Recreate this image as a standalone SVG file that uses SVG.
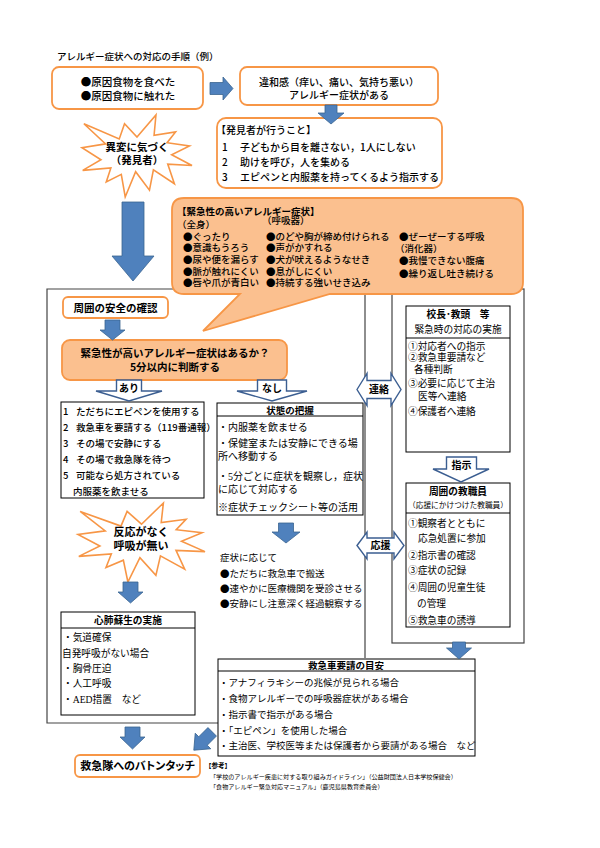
<svg xmlns="http://www.w3.org/2000/svg" width="600" height="848" viewBox="0 0 600 848">
<style>
.g{font-family:"Noto Sans CJK JP","Noto Sans CJK SC",sans-serif;fill:#000;font-weight:500}
.m{font-family:"Liberation Serif","Noto Sans CJK JP",serif;fill:#000}
.j{font-family:"Noto Sans CJK JP",sans-serif}
.b{font-weight:700}
.c{text-anchor:middle}
.ob{fill:#fff;stroke:#F79646;stroke-width:1.8}
.of{fill:#FBC08F;stroke:#F79646;stroke-width:1.8}
.bx{fill:#fff;stroke:#000;stroke-width:1}
.ln{stroke:#000;stroke-width:1}
.fr{fill:none;stroke:#444;stroke-width:1.2}
.ba{fill:#4F81BD;stroke:#3A6591;stroke-width:0.8}
.oa{fill:#fff;stroke:#3B5E91;stroke-width:1.4}
.st{fill:#fff;stroke:#F79646;stroke-width:1.6;stroke-linejoin:miter}
</style>
<rect width="600" height="848" fill="#fff"/>
<text class="g" x="57" y="60.3" font-size="9.5">アレルギー症状への対応の手順（例）</text>

<g id="frames">
<path class="fr" d="M365 658 V289 H47 V723 H218"/>
<rect class="fr" x="392" y="289" width="132" height="354"/>
</g>

<g id="cause">
<rect class="ob" x="52" y="67" width="151" height="42" rx="7"/>
<text class="g c" x="128" y="85.7" font-size="10.5">●原因食物を食べた</text>
<text class="g c" x="128" y="99.5" font-size="10.5">●原因食物に触れた</text>
</g>

<g id="symptom">
<rect class="ob" x="240" y="67" width="198" height="38" rx="7"/>
<text class="g c" x="339" y="85.5" font-size="10">違和感（痒い、痛い、気持ち悪い）</text>
<text class="g c" x="339" y="99" font-size="10">アレルギー症状がある</text>
</g>

<g id="notice">
<polygon class="st" points="137,137 155.95,115 154.08,135.21 175.6,131.92 167.05,142.77 189.44,145.89 171.66,154.77 192,165.46 167.75,164.13 174.4,183.69 153.4,169.88 149.46,190.15 135.64,171.69 125.21,197 121.29,174.33 106.26,181.88 110.86,167.91 82.69,170.37 100.95,159.7 82,147.7 105.56,143.91 83.88,123.72 119.24,138.99 124.54,123.72"/>
<text class="g b c" x="137" y="151" font-size="10.5">異変に気づく</text>
<text class="g b c" x="137" y="163.5" font-size="10.5">（発見者）</text>
</g>

<g id="discoverer">
<rect class="ob" x="217" y="118" width="225" height="70" rx="9"/>
<text class="g" x="216" y="133.8" font-size="10">【発見者が行うこと】</text>
<text class="g" font-size="10" y="150.8"><tspan x="222">1</tspan><tspan x="240">子どもから目を離さない，1人にしない</tspan></text>
<text class="g" font-size="10" y="165.8"><tspan x="222">2</tspan><tspan x="240">助けを呼び，人を集める</tspan></text>
<text class="g" font-size="10" y="180.8"><tspan x="222">3</tspan><tspan x="240">エピペンと内服薬を持ってくるよう指示する</tspan></text>
</g>

<g id="urgent-symptoms">
<path class="of" d="M184 198 H511 Q523 198 523 210 V282 Q523 294 511 294 H330 L203 331 L240 294 H184 Q172 294 172 282 V210 Q172 198 184 198 Z"/>
<text class="g b" x="177" y="215" font-size="9.5">【緊急性の高いアレルギー症状】</text>
<text class="g" x="262" y="223.5" font-size="9.5">（呼吸器）</text>
<text class="g" x="177" y="227.8" font-size="9.5">（全身）</text>
<text class="g" x="183" y="239.8" font-size="9.5">●ぐったり</text>
<text class="g" x="183" y="251.4" font-size="9.5">●意識もうろう</text>
<text class="g" x="183" y="263" font-size="9.5">●尿や便を漏らす</text>
<text class="g" x="183" y="274.7" font-size="9.5">●脈が触れにくい</text>
<text class="g" x="183" y="286.4" font-size="9.5">●唇や爪が青白い</text>
<text class="g" x="266" y="239.8" font-size="9.5">●のどや胸が締め付けられる</text>
<text class="g" x="266" y="251.4" font-size="9.5">●声がかすれる</text>
<text class="g" x="266" y="263" font-size="9.5">●犬が吠えるようなせき</text>
<text class="g" x="266" y="274.7" font-size="9.5">●息がしにくい</text>
<text class="g" x="266" y="286.4" font-size="9.5">●持続する強いせき込み</text>
<text class="g" x="399" y="239.8" font-size="9.5">●ぜーぜーする呼吸</text>
<text class="g" x="395" y="251.8" font-size="9.5">（消化器）</text>
<text class="g" x="399" y="264" font-size="9.5">●我慢できない腹痛</text>
<text class="g" x="399" y="276.5" font-size="9.5">●繰り返し吐き続ける</text>
</g>

<g id="safety">
<rect class="ob" x="63" y="297" width="105" height="21" rx="5"/>
<text class="g b c" x="115.5" y="311.5" font-size="10.5">周囲の安全の確認</text>
</g>

<g id="judge">
<rect class="of" x="62" y="340" width="225" height="40" rx="8"/>
<text class="g b c" x="175" y="356.7" font-size="10.5">緊急性が高いアレルギー症状はあるか？</text>
<text class="g b c" x="175" y="371.3" font-size="10.5">5分以内に判断する</text>
</g>

<g id="actions">
<rect class="bx" x="61" y="402" width="143" height="96" stroke-width="2"/>
<text class="g" font-size="9.5" y="414.6"><tspan x="63">1</tspan><tspan x="76">ただちにエピペンを使用する</tspan></text>
<text class="g" font-size="9.5" y="430.6"><tspan x="63">2</tspan><tspan x="76">救急車を要請する（119番通報）</tspan></text>
<text class="g" font-size="9.5" y="446.6"><tspan x="63">3</tspan><tspan x="76">その場で安静にする</tspan></text>
<text class="g" font-size="9.5" y="462.6"><tspan x="63">4</tspan><tspan x="76">その場で救急隊を待つ</tspan></text>
<text class="g" font-size="9.5" y="478.6"><tspan x="63">5</tspan><tspan x="76">可能なら処方されている</tspan></text>
<text class="g" x="73" y="494.6" font-size="9.5">内服薬を飲ませる</text>
</g>

<g id="status">
<rect class="bx" x="217" y="403" width="146" height="112"/>
<line class="ln" x1="217" y1="416" x2="363" y2="416"/>
<text class="m b c" x="290" y="413.5" font-size="9.5">状態の把握</text>
<text class="m" x="218" y="430.8" font-size="10">・内服薬を飲ませる</text>
<text class="m" x="218" y="446.8" font-size="10">・保健室または安静にできる場</text>
<text class="m" x="218" y="459.8" font-size="10">所へ移動する</text>
<text class="m" x="218" y="479.8" font-size="10">・5分ごとに症状を観察し，症状</text>
<text class="m" x="218" y="492.8" font-size="10">に応じて対応する</text>
<text class="m" x="218" y="510.8" font-size="10">※症状チェックシート等の活用</text>
</g>

<g id="according">
<text class="m" x="220" y="560.6" font-size="9.5">症状に応じて</text>
<text class="m" x="220" y="576.6" font-size="9.5"><tspan class="j">●</tspan>ただちに救急車で搬送</text>
<text class="m" x="220" y="591.6" font-size="9.5"><tspan class="j">●</tspan>速やかに医療機関を受診させる</text>
<text class="m" x="220" y="606.6" font-size="9.5"><tspan class="j">●</tspan>安静にし注意深く経過観察する</text>
</g>

<g id="no-response">
<polygon class="st" points="141.5,524.21 163.38,503 161.22,522.47 186.06,519.3 176.2,529.76 202.04,532.76 181.52,541.32 205,551.62 176,550.34 184.68,569.18 160.44,555.87 155.89,575.4 139.93,557.62 127.89,582 123.36,560.16 106,567.43 111.32,553.97 78.8,556.35 99.88,546.06 78,534.51 105.2,530.86 80.17,511.4 120.99,526.12 127.11,511.4"/>
<text class="g b c" x="141" y="536.2" font-size="11">反応がなく</text>
<text class="g b c" x="141" y="550.2" font-size="11">呼吸が無い</text>
</g>

<g id="cpr">
<rect class="bx" x="61" y="612" width="134" height="103"/>
<line class="ln" x1="61" y1="628" x2="195" y2="628"/>
<text class="m b c" x="128" y="623.7" font-size="9.7">心肺蘇生の実施</text>
<text class="m" x="63" y="640.7" font-size="9.7">・気道確保</text>
<text class="m" x="62" y="656.7" font-size="9.7">自発呼吸がない場合</text>
<text class="m" x="63" y="671.7" font-size="9.7">・胸骨圧迫</text>
<text class="m" x="63" y="686.7" font-size="9.7">・人工呼吸</text>
<text class="m" x="63" y="702.7" font-size="9.7">・AED措置　など</text>
</g>

<g id="principal">
<rect class="bx" x="406" y="306" width="104" height="146"/>
<line class="ln" x1="406" y1="338" x2="510" y2="338"/>
<text class="m b c" x="458" y="317.7" font-size="9.7">校長･教頭　等</text>
<text class="m c" x="458" y="332.7" font-size="9.7">緊急時の対応の実施</text>
<text class="m" x="408" y="349.7" font-size="9.7">①対応者への指示</text>
<text class="m" x="408" y="361.4" font-size="9.7">②救急車要請など</text>
<text class="m" x="414" y="373" font-size="9.7">各種判断</text>
<text class="m" x="408" y="387" font-size="9.7">③必要に応じて主治</text>
<text class="m" x="418" y="399.7" font-size="9.7">医等へ連絡</text>
<text class="m" x="408" y="415.4" font-size="9.7">④保護者へ連絡</text>
</g>

<g id="staff">
<rect class="bx" x="406" y="483" width="104" height="144"/>
<line class="ln" x1="406" y1="513" x2="510" y2="513"/>
<text class="m b c" x="458" y="494.7" font-size="9.7">周囲の教職員</text>
<text class="m c" x="458" y="508" font-size="7.7">（応援にかけつけた教職員）</text>
<text class="m" x="408" y="526.7" font-size="9.7">①観察者とともに</text>
<text class="m" x="418" y="541.7" font-size="9.7">応急処置に参加</text>
<text class="m" x="408" y="558.7" font-size="9.7">②指示書の確認</text>
<text class="m" x="408" y="573.7" font-size="9.7">③症状の記録</text>
<text class="m" x="408" y="590.7" font-size="9.7">④周囲の児童生徒</text>
<text class="m" x="417" y="606.7" font-size="9.7">の管理</text>
<text class="m" x="408" y="623.7" font-size="9.7">⑤救急車の誘導</text>
</g>

<g id="ambulance-criteria">
<rect class="bx" x="218" y="659" width="257" height="97"/>
<line class="ln" x1="218" y1="671" x2="475" y2="671"/>
<text class="m b c" x="346" y="668.6" font-size="9.5">救急車要請の目安</text>
<text class="m" x="219" y="685.6" font-size="9.5">・アナフィラキシーの兆候が見られる場合</text>
<text class="m" x="219" y="701.6" font-size="9.5">・食物アレルギーでの呼吸器症状がある場合</text>
<text class="m" x="219" y="717.6" font-size="9.5">・指示書で指示がある場合</text>
<text class="m" x="219" y="733.6" font-size="9.5">・「エピペン」を使用した場合</text>
<text class="m" x="219" y="748.6" font-size="9.5">・主治医、学校医等または保護者から要請がある場合　など</text>
</g>

<g id="baton">
<rect class="ob" x="75" y="755" width="125" height="22" rx="5"/>
<text class="g b c" x="137.5" y="770.3" font-size="11" style="font-feature-settings:'palt'">救急隊へのバトンタッチ</text>
</g>

<g id="reference">
<text class="m b" x="205" y="767.5" font-size="6.5">【参考】</text>
<text class="m" x="210" y="779" font-size="6.1">「学校のアレルギー疾患に対する取り組みガイドライン」（公益財団法人日本学校保健会）</text>
<text class="m" x="210" y="788.5" font-size="6.1">「食物アレルギー緊急対応マニュアル」（鹿児島県教育委員会）</text>
</g>

<g id="connectors">
<path class="ba" d="M210 82.5 H223 V77 L233 88.5 L223 100 V94.5 H210 Z"/>
<path class="ba" d="M325 105 H337 V113 H344 L331 124 L318 113 H325 Z"/>
<path class="ba" d="M122 202 H144 V256 H154 L133 281 L112 256 H122 Z"/>
<path class="ba" d="M105 320 H120 V330 H125 L112.5 340 L100 330 H105 Z"/>
<path class="ba" d="M278.5 523 H293.5 V532 H300 L286 543 L272 532 H278.5 Z"/>
<path class="ba" d="M123 582 H138 V592 H143 L130.5 603 L118 592 H123 Z"/>
<path class="ba" d="M452.5 642 H465.5 V648 H471.5 L459 659 L446.5 648 H452.5 Z"/>
<path class="ba" d="M125 727 H140 V737 H145 L132.5 749 L120 737 H125 Z"/>
<path class="ba" transform="translate(203 741) rotate(45)" d="M-6 -13 H6 V0 H11 L0 13 L-11 0 H-6 Z"/>
<g id="arrow-yes">
<path class="oa" d="M116.5 380 H141.5 V391 H162 L129 401 L96 391 H116.5 Z"/>
<text class="g b c" x="129" y="391.5" font-size="10">あり</text>
</g>
<g id="arrow-no">
<path class="oa" d="M257.5 380 H286.5 V391 H307 L272 401 L237 391 H257.5 Z"/>
<text class="g b c" x="272" y="391.5" font-size="10">なし</text>
</g>
<g id="arrow-contact">
<path class="oa" d="M357 389.5 L367 373.5 V380.5 H391 V373.5 L401 389.5 L391 405.5 V398.5 H367 V405.5 Z"/>
<text class="g b c" x="379" y="393.3" font-size="10">連絡</text>
</g>
<g id="arrow-support">
<path class="oa" d="M357 545.5 L367 532 V538 H394 V532 L404 545.5 L394 559 V553 H367 V559 Z"/>
<text class="g b c" x="380.5" y="549.3" font-size="10">応援</text>
</g>
<g id="arrow-instruct">
<path class="oa" d="M446.5 457 H476.5 V469 H489 L461 482 L433 469 H446.5 Z"/>
<text class="g b c" x="461.5" y="468.8" font-size="10">指示</text>
</g>
</g>
</svg>
